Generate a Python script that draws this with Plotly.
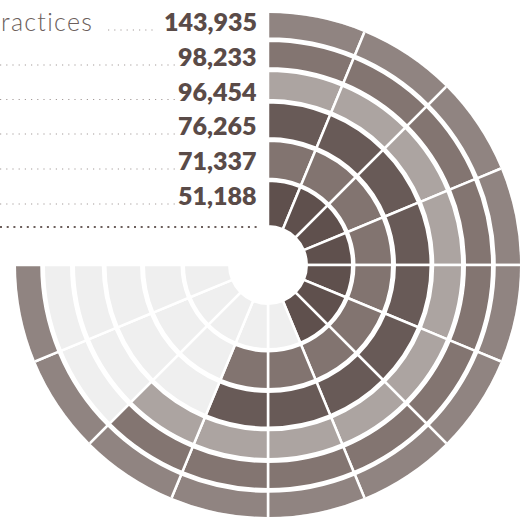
import plotly.graph_objects as go

W, H = 531, 517

# ---- data ----
first_label = "ractices"          # visible tail of the first category label
values = [143935, 98233, 96454, 76265, 71337, 51188]
filled_segments = [12, 10, 10, 9, 9, 7]   # coloured segments per ring (outer -> inner)
total_segments = 12
sweep_deg = 270

# ---- style ----
ring_colors = ["#908481", "#837571", "#aca4a1", "#685a57", "#827470", "#5f504d"]
empty_color = "#efefef"
ring_bounds = [(227.8, 252.3), (198.0, 223.0), (166.3, 193.0),
               (128.0, 161.5), (87.5, 123.0), (40.0, 83.0)]
stroke = 2.5
text_color = "#5a4b48"
label_color = "#6b5e5b"

seg_w = sweep_deg / total_segments
theta, base, r, color = [], [], [], []
for i, (lo, hi) in enumerate(ring_bounds):
    for k in range(total_segments):
        theta.append(seg_w * (k + 0.5))
        base.append(lo - stroke / 2)
        r.append(hi - lo + stroke)
        color.append(ring_colors[i] if k < filled_segments[i] else empty_color)

fig = go.Figure(go.Barpolar(
    theta=theta, r=r, base=base, width=seg_w,
    marker=dict(color=color, line=dict(color="white", width=stroke)),
    hoverinfo="skip", showlegend=False,
))

cx, cy, R = 268, 265, 252
fig.update_layout(
    width=W, height=H,
    margin=dict(l=0, r=0, t=0, b=0),
    paper_bgcolor="white",
    polar=dict(
        domain=dict(x=[(cx - R) / W, (cx + R) / W], y=[0, 2 * (H - cy) / H]),
        bgcolor="white",
        barmode="overlay",
        radialaxis=dict(range=[0, R], visible=False),
        angularaxis=dict(rotation=90, direction="clockwise", visible=False,
                         thetaunit="degrees"),
    ),
)

baselines = [31, 66, 100.5, 135, 170, 205]
ann = []
shapes = []
for i, v in enumerate(values):
    b = baselines[i]
    ann.append(dict(
        text=f"{v:,}", x=259 / W, y=1 - (b - 9.6) / H,
        xref="paper", yref="paper", xanchor="right", yanchor="middle",
        showarrow=False, font=dict(family="Lato", size=25, color=text_color, weight=800),
    ))
    if i == 0:
        x0, x1 = 108, 157
    else:
        x0, x1 = 0, 176
    shapes.append(dict(type="line", xref="paper", yref="paper",
                       x0=x0 / W, x1=x1 / W, y0=1 - (b - 1) / H, y1=1 - (b - 1) / H,
                       line=dict(color="#a49b99", width=1.2, dash="1.2px,5px")))

ann.append(dict(
    text=f'<span style="letter-spacing:1.3px">{first_label}</span>',
    x=-1 / W, y=1 - (31 - 9.5) / H, xref="paper", yref="paper",
    xanchor="left", yanchor="middle", showarrow=False,
    font=dict(family="Lato", size=25, color=label_color, weight=300),
))
shapes.append(dict(type="line", xref="paper", yref="paper",
                   x0=0, x1=259 / W, y0=1 - 227 / H, y1=1 - 227 / H,
                   line=dict(color=label_color, width=2, dash="2px,4.7px")))

fig.update_layout(annotations=ann, shapes=shapes)
fig.write_html("out.html")
